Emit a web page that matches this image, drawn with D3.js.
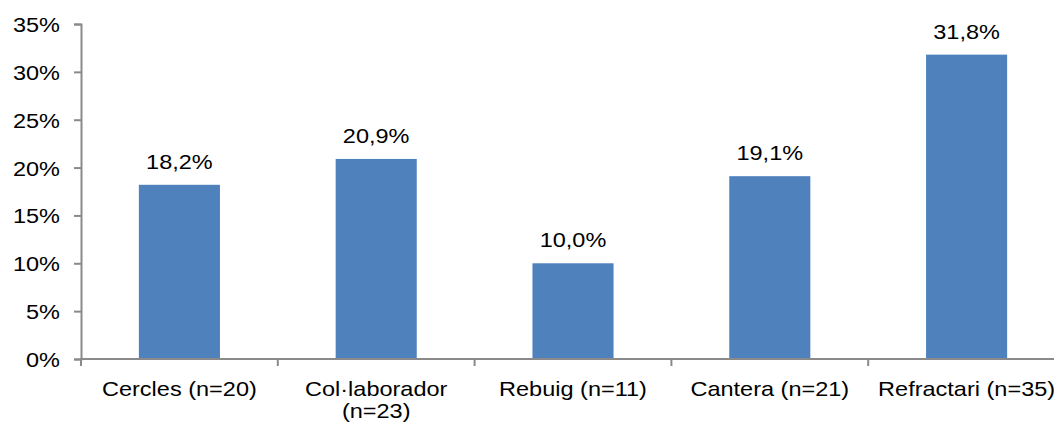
<!DOCTYPE html>
<html>
<head>
<meta charset="utf-8">
<script src="https://cdn.jsdelivr.net/npm/d3@7"></script>
<style>
  html, body { margin: 0; padding: 0; background: #fff; overflow: hidden; }
  svg { display: block; font-family: "Liberation Sans", Arial, sans-serif; }
</style>
</head>
<body>
<svg id="chart" width="1054" height="425"></svg>
<script>
const categories = ["Cercles (n=20)", "Col\u00B7laborador (n=23)", "Rebuig (n=11)", "Cantera (n=21)", "Refractari (n=35)"];
const values = [18.2, 20.9, 10.0, 19.1, 31.8];
const valueLabels = ["18,2%", "20,9%", "10,0%", "19,1%", "31,8%"];
const yTicks = [0, 5, 10, 15, 20, 25, 30, 35];
const yTickLabels = ["0%", "5%", "10%", "15%", "20%", "25%", "30%", "35%"];

const svg = d3.select("#chart");
const FS = 21, SX = 1.12;
const axisColor = "#8A8A8A";
const barColor = "#4F81BD";

const x = d3.scaleBand().domain(categories).range([81, 1065]).paddingInner(0.588).paddingOuter(0.294);
const y = d3.scaleLinear().domain([0, 35]).range([359, 24]);

// Y axis
const yAxis = d3.axisLeft(y).tickValues(yTicks).tickSize(7).tickFormat((d, i) => yTickLabels[i]);
const gy = svg.append("g").attr("transform", "translate(81,0)").call(yAxis);
gy.select(".domain").attr("stroke", axisColor).attr("stroke-width", 2);
gy.selectAll(".tick line").attr("stroke", axisColor).attr("stroke-width", 2);
gy.selectAll(".tick text").remove();
gy.selectAll(".tick").append("text")
  .attr("transform", "translate(-21,0) scale(" + SX + ",1)")
  .attr("dy", "0.36em")
  .attr("text-anchor", "end")
  .attr("fill", "#000")
  .style("font-size", FS + "px")
  .style("font-family", '"Liberation Sans", Arial, sans-serif')
  .text((d, i) => yTickLabels[i]);

// Bars
svg.append("g").selectAll("rect").data(values).join("rect")
  .attr("x", (d, i) => x(categories[i]))
  .attr("width", x.bandwidth())
  .attr("y", d => y(d))
  .attr("height", d => y(0) - y(d))
  .attr("fill", barColor);

// X axis line and separator ticks
const gx = svg.append("g");
gx.append("line").attr("x1", 80).attr("x2", 1065).attr("y1", y(0)).attr("y2", y(0))
  .attr("stroke", axisColor).attr("stroke-width", 2);
const bounds = categories.map(c => x(c) - x.step() * x.paddingOuter()).concat([1065]);
gx.selectAll("line.sep").data(bounds).join("line").attr("class", "sep")
  .attr("x1", d => d).attr("x2", d => d).attr("y1", y(0)).attr("y2", y(0) + 7)
  .attr("stroke", axisColor).attr("stroke-width", 2);

// Category labels (wrapped if wider than the band step)
categories.forEach((c, i) => {
  const cx = x(c) + x.bandwidth() / 2;
  const t = svg.append("text")
    .attr("transform", "translate(" + cx + ",396) scale(" + SX + ",1)")
    .attr("text-anchor", "middle")
    .style("font-size", FS + "px")
    .attr("fill", "#000");
  t.text(c);
  if (t.node().getComputedTextLength() * SX > x.step() - 4) {
    t.text(null);
    const words = c.split(" ");
    const lines = [];
    let cur = [];
    words.forEach(w => {
      cur.push(w);
      t.text(cur.join(" "));
      if (t.node().getComputedTextLength() * SX > x.step() - 4 && cur.length > 1) {
        cur.pop();
        lines.push(cur.join(" "));
        cur = [w];
      }
    });
    lines.push(cur.join(" "));
    t.text(null);
    lines.forEach((l, k) => {
      t.append("tspan").attr("x", 0).attr("dy", k === 0 ? 0 : 22).text(l);
    });
  }
});

// Value labels
svg.append("g").selectAll("text").data(values).join("text")
  .attr("transform", (d, i) => "translate(" + (x(categories[i]) + x.bandwidth() / 2) + "," + (y(d) - 16) + ") scale(" + SX + ",1)")
  .attr("text-anchor", "middle")
  .style("font-size", FS + "px")
  .attr("fill", "#000")
  .text((d, i) => valueLabels[i]);
</script>
</body>
</html>
